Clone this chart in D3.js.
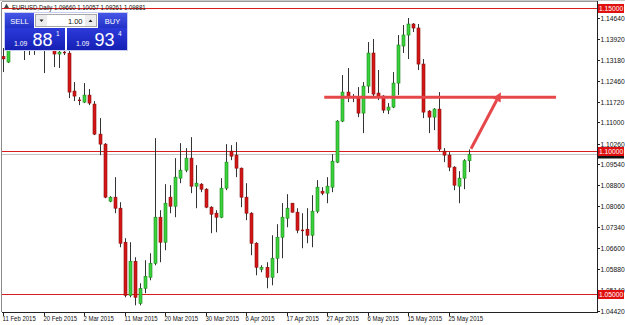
<!DOCTYPE html>
<html><head><meta charset="utf-8">
<script src="https://cdn.jsdelivr.net/npm/d3@7/dist/d3.min.js"></script>
<style>body{margin:0;background:#fff;overflow:hidden}svg{display:block;font-family:"Liberation Sans",Arial,sans-serif}</style>
</head><body><svg id="c" width="625" height="325"></svg>
<script>
const symbol = "EURUSD,Daily";
const opens  = [1.1330,1.1311,1.1371,1.1405,1.1390,1.1360,1.1385,1.1400,1.1420,1.1380,1.1400,1.1339,1.1345,1.1342,1.12095,1.1178,1.1171,1.11955,1.1164,1.1059,1.1024,1.08245,1.08385,1.0800,1.0681,1.04955,1.06145,1.04675,1.0520,1.05585,1.06075,1.07685,1.0681,1.08385,1.0807,1.0905,1.0933,1.0975,1.0877,1.0884,1.08665,1.08035,1.07825,1.07685,1.0870,1.09995,1.09855,1.0940,1.08385,1.07825,1.06775,1.05865,1.05935,1.05585,1.0625,1.06985,1.0765,1.08175,1.0786,1.0723,1.07265,1.07055,1.07895,1.08595,1.08525,1.08735,1.0961,1.11045,1.1206,1.11885,1.11885,1.11325,1.1227,1.13425,1.12025,1.1192,1.1143,1.11535,1.12375,1.1367,1.14055,1.1444,1.1430,1.1304,1.11395,1.11185,1.11465,1.09995,1.09855,1.09435,1.0877,1.0905,1.0966];
const highs  = [1.1360,1.1388,1.1430,1.1445,1.1420,1.1400,1.1430,1.1450,1.1440,1.1420,1.1420,1.1380,1.1360,1.1350,1.1241,1.11885,1.12375,1.12165,1.11745,1.1115,1.10275,1.0842,1.09085,1.0821,1.0695,1.0681,1.06285,1.05375,1.0618,1.06425,1.1045,1.0793,1.0884,1.08805,1.0975,1.10275,1.1010,1.10485,1.09505,1.08875,1.0870,1.0807,1.0793,1.0905,1.1024,1.10205,1.1031,1.0942,1.08875,1.0786,1.0681,1.06005,1.0611,1.07055,1.0744,1.0818,1.0849,1.0818,1.0800,1.07825,1.0800,1.08455,1.0898,1.08735,1.09085,1.0989,1.1108,1.12655,1.1290,1.1199,1.12235,1.1241,1.1381,1.13915,1.1283,1.11955,1.11675,1.1276,1.14055,1.14405,1.1465,1.1447,1.1444,1.13215,1.1143,1.1150,1.1206,1.1010,1.0996,1.0947,1.09295,1.09715,1.10057];
const lows   = [1.1276,1.13075,1.1362,1.1370,1.1318,1.13355,1.1336,1.1370,1.12725,1.1360,1.12935,1.1290,1.13355,1.1185,1.11745,1.11605,1.11675,1.11605,1.10555,1.09855,1.0835,1.0821,1.07825,1.06635,1.04885,1.04885,1.04605,1.04605,1.05025,1.0548,1.06005,1.0611,1.0653,1.07825,1.07685,1.08875,1.0926,1.08525,1.0800,1.0856,1.0800,1.07125,1.0716,1.0765,1.0863,1.0968,1.09085,1.08035,1.0758,1.06355,1.05655,1.0576,1.0520,1.05305,1.0573,1.0625,1.07335,1.0785,1.07125,1.0660,1.06775,1.06635,1.07825,1.08455,1.08175,1.0856,1.09575,1.1101,1.1171,1.1171,1.11185,1.10625,1.12025,1.11885,1.1178,1.11325,1.1129,1.1150,1.11955,1.13425,1.13215,1.1416,1.1283,1.1115,1.10625,1.1073,1.09995,1.0961,1.09295,1.0863,1.08175,1.08665,1.09261];
const closes = [1.1322,1.1371,1.1405,1.1385,1.1360,1.1385,1.1400,1.1420,1.1380,1.1400,1.1339,1.1346,1.1342,1.1206,1.1192,1.1177,1.11955,1.11675,1.1059,1.1024,1.08385,1.08385,1.0800,1.06775,1.04955,1.06145,1.04885,1.0520,1.0562,1.06075,1.07685,1.0681,1.08175,1.0807,1.09085,1.0933,1.0975,1.0877,1.08875,1.08665,1.08035,1.0779,1.07685,1.0870,1.0961,1.0982,1.0940,1.08385,1.07825,1.06775,1.05935,1.05935,1.05585,1.0625,1.06985,1.07685,1.0800,1.0786,1.0723,1.0722,1.07055,1.07895,1.08735,1.08525,1.0877,1.09645,1.11045,1.1206,1.11885,1.1187,1.11325,1.1227,1.13425,1.1199,1.1192,1.1143,1.11535,1.12375,1.13705,1.14055,1.1444,1.1430,1.1304,1.1136,1.11185,1.11465,1.10065,1.09855,1.09435,1.08805,1.0905,1.0966,1.09881];
const dateLabels = ["11 Feb 2015","20 Feb 2015","2 Mar 2015","11 Mar 2015","20 Mar 2015","30 Mar 2015","6 Apr 2015","17 Apr 2015","27 Apr 2015","6 May 2015","15 May 2015","25 May 2015"];
const barsPerLabel = 8;
const priceTicks = [1.14640,1.13920,1.13180,1.12460,1.11720,1.11000,1.10260,1.09540,1.08800,1.08060,1.07340,1.06600,1.05880,1.05140,1.04420];
const levelLines = [1.15, 1.10, 1.05];
const bidPrice = 1.09881;
const zoneLevel = 1.1188, zoneFrom = 63.4, zoneTo = 109.2;
const arrowFrom = [92.4, 1.1008], arrowTo = [98.3, 1.1205];
const lots = "1.00";
const sellQuote = ["1.09","88","1"], buyQuote = ["1.09","93","4"];

const svg = d3.select("#c");
const L = 2, R = 597, T = 2, B = 312;
const x = d3.scaleLinear().domain([0, 92]).range([3.33, 469]);
const y = d3.scaleLinear().domain([1.05, 1.15]).range([294, 8]);

const defs = svg.append("defs");
defs.append("clipPath").attr("id","plot").append("rect").attr("x",L).attr("y",T).attr("width",R-L).attr("height",B-T);
const g1 = defs.append("linearGradient").attr("id","btn").attr("x1",0).attr("y1",0).attr("x2",0).attr("y2",1);
g1.append("stop").attr("offset","0").attr("stop-color","#4656e6");
g1.append("stop").attr("offset","1").attr("stop-color","#2232c8");
const g2 = defs.append("linearGradient").attr("id","box").attr("x1",0).attr("y1",0).attr("x2",0).attr("y2",1);
g2.append("stop").attr("offset","0").attr("stop-color","#2c3ada");
g2.append("stop").attr("offset","1").attr("stop-color","#1520b4");

svg.append("rect").attr("width",625).attr("height",325).attr("fill","#fff");

const plot = svg.append("g").attr("clip-path","url(#plot)");
plot.append("line").attr("x1",L).attr("x2",R).attr("y1",Math.round(y(bidPrice))+0.5).attr("y2",Math.round(y(bidPrice))+0.5).attr("stroke","#c4c4c4");
plot.selectAll(".lvl").data(levelLines).join("line")
  .attr("x1",L).attr("x2",R)
  .attr("y1",d=>Math.round(y(d))+0.5).attr("y2",d=>Math.round(y(d))+0.5)
  .attr("stroke","#d81e1e").attr("stroke-width",1);

const idx = d3.range(opens.length);
const cg = plot.append("g");
idx.forEach(i=>{
  const cx = Math.round(x(i));
  const o=opens[i], h=highs[i], l=lows[i], c=closes[i];
  cg.append("line").attr("x1",cx+0.5).attr("x2",cx+0.5).attr("y1",y(h)).attr("y2",y(l)).attr("stroke","#333").attr("stroke-width",1);
  const top = Math.min(y(o),y(c)), bh = Math.abs(y(o)-y(c));
  if (bh < 1.2) {
    cg.append("rect").attr("x",cx-1).attr("y",top-0.5).attr("width",3).attr("height",1.4).attr("fill", c>=o?"#1f8f1f":"#a01010");
  } else {
    cg.append("rect").attr("x",cx-1).attr("y",top).attr("width",3).attr("height",bh)
      .attr("fill", c>=o?"#3ad23a":"#d41616")
      .attr("stroke", c>=o?"#1b8a1b":"#8c0c0c").attr("stroke-width",0.6);
  }
});

const red2 = "#e6474a";
plot.append("line").attr("x1",x(zoneFrom)).attr("x2",x(zoneTo)).attr("y1",y(zoneLevel)).attr("y2",y(zoneLevel))
  .attr("stroke",red2).attr("stroke-width",3.2);
const ax1=x(arrowFrom[0]), ay1=y(arrowFrom[1]), ax2=x(arrowTo[0]), ay2=y(arrowTo[1]);
const ang = Math.atan2(ay2-ay1, ax2-ax1);
const hl = 9, hw = 4.5;
const bx = ax2 - hl*Math.cos(ang), by = ay2 - hl*Math.sin(ang);
plot.append("line").attr("x1",ax1).attr("y1",ay1).attr("x2",bx).attr("y2",by).attr("stroke",red2).attr("stroke-width",3);
plot.append("path").attr("d",`M${ax2},${ay2}L${bx+hw*Math.sin(ang)},${by-hw*Math.cos(ang)}L${bx-hw*Math.sin(ang)},${by+hw*Math.cos(ang)}Z`).attr("fill",red2);

svg.append("line").attr("x1",0).attr("x2",625).attr("y1",0.5).attr("y2",0.5).attr("stroke","#c8c8c8");
svg.append("line").attr("x1",L).attr("x2",R).attr("y1",T-0.5).attr("y2",T-0.5).attr("stroke","#9a9a9a");
svg.append("line").attr("x1",L-0.5).attr("x2",L-0.5).attr("y1",T).attr("y2",B).attr("stroke","#8a8a8a");
svg.append("line").attr("x1",R+0.5).attr("x2",R+0.5).attr("y1",T-1).attr("y2",B+1).attr("stroke","#222");
svg.append("line").attr("x1",L).attr("x2",R+1).attr("y1",B+0.5).attr("y2",B+0.5).attr("stroke","#222");

// price axis
const pa = svg.append("g");
const priceText = (sel, xx, yy, t, fill) => sel.append("text")
  .attr("transform",`translate(${xx},${yy}) scale(0.84,1)`).attr("dy","0.35em")
  .attr("font-size",8).attr("fill",fill).text(t);
priceTicks.forEach(p=>{
  const yy = Math.round(y(p))+0.5;
  pa.append("line").attr("x1",R+1).attr("x2",R+3).attr("y1",yy).attr("y2",yy).attr("stroke","#222");
  priceText(pa, R+3.5, yy, p.toFixed(5), "#111");
});
const byy = Math.round(y(bidPrice));
pa.append("rect").attr("x",R+1).attr("y",byy-4.5).attr("width",26).attr("height",9).attr("fill","#111");
levelLines.forEach(p=>{
  const yy = Math.round(y(p));
  pa.append("rect").attr("x",R+1).attr("y",yy-4).attr("width",26).attr("height",9).attr("fill","#e01010");
  priceText(pa, R+2, yy+0.5, p.toFixed(5), "#fff");
});

// date axis
const da = svg.append("g");
dateLabels.forEach((t,k)=>{
  const xx = Math.round(x(k*barsPerLabel))+0.5;
  da.append("line").attr("x1",xx).attr("x2",xx).attr("y1",B+1).attr("y2",B+4).attr("stroke","#222");
  da.append("text").attr("transform",`translate(${xx-1},320.5) scale(0.75,1)`).attr("font-size",8).attr("fill","#111").text(t);
});

// title
const last = opens.length-1;
svg.append("path").attr("d","M4,8L6.5,3.5L9,8Z").attr("fill","#444");
svg.append("text").attr("transform","translate(12,9.5) scale(0.75,1)").attr("font-size",8).attr("fill","#111")
  .text(`${symbol} ${opens[last].toFixed(5)} ${highs[last].toFixed(5)} ${lows[last].toFixed(5)} ${closes[last].toFixed(5)}`);

// trade panel
const pn = svg.append("g");
pn.append("rect").attr("x",4.5).attr("y",12.5).attr("width",123).attr("height",38).attr("fill","#fff").attr("stroke","#c9cdf0");
pn.append("rect").attr("x",5).attr("y",13).attr("width",29).attr("height",15).attr("fill","url(#btn)");
pn.append("text").attr("x",19.5).attr("y",23.5).attr("text-anchor","middle").attr("font-size",7.5).attr("fill","#fff").text("SELL");
pn.append("rect").attr("x",98).attr("y",13).attr("width",29).attr("height",15).attr("fill","url(#btn)");
pn.append("text").attr("x",112.5).attr("y",23.5).attr("text-anchor","middle").attr("font-size",7.5).attr("fill","#fff").text("BUY");
pn.append("rect").attr("x",35.5).attr("y",14.5).attr("width",61).attr("height",12).attr("fill","#fff").attr("stroke","#a8a8a8");
pn.append("rect").attr("x",36).attr("y",15).attr("width",11).attr("height",11).attr("fill","#ececec");
pn.append("rect").attr("x",85).attr("y",15).attr("width",11).attr("height",11).attr("fill","#ececec");
pn.append("path").attr("d","M39.5,19.5L43.5,19.5L41.5,22Z").attr("fill","#222");
pn.append("path").attr("d","M88.5,22L92.5,22L90.5,19.5Z").attr("fill","#222");
pn.append("text").attr("x",82.5).attr("y",23.5).attr("text-anchor","end").attr("font-size",7.5).attr("fill","#111").text(lots);
[[5,sellQuote],[67,buyQuote]].forEach(([bx0,q])=>{
  pn.append("rect").attr("x",bx0).attr("y",28).attr("width",60).attr("height",22).attr("fill","url(#box)");
  pn.append("text").attr("x",bx0+9).attr("y",46).attr("font-size",6.8).attr("fill","#fff").text(q[0]);
  pn.append("text").attr("x",bx0+27.5).attr("y",45.5).attr("font-size",18).attr("fill","#fff").text(q[1]);
  pn.append("text").attr("x",bx0+51).attr("y",36).attr("font-size",6.5).attr("fill","#fff").text(q[2]);
});
</script></body></html>
